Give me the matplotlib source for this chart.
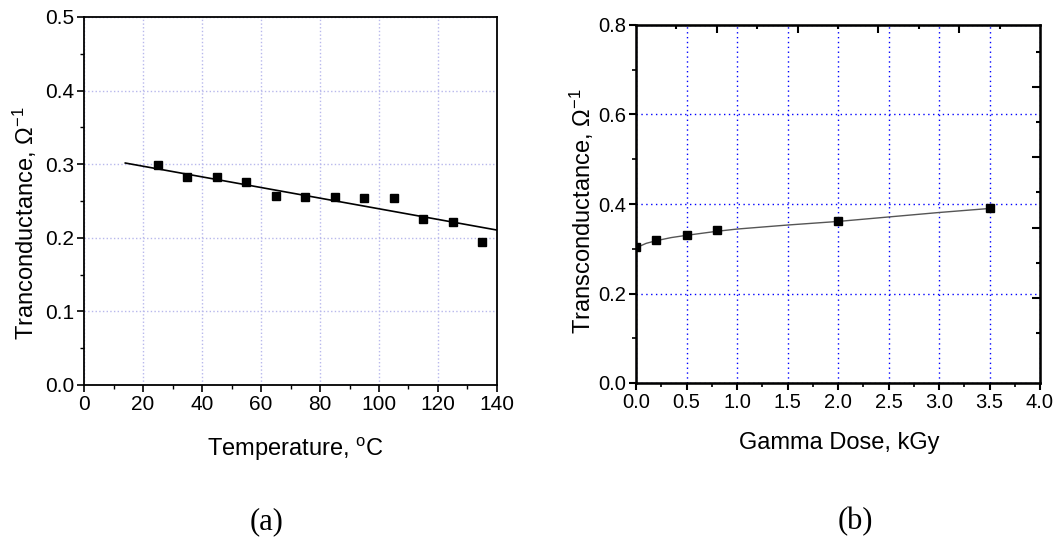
import numpy as np
import matplotlib
matplotlib.use("Agg")
import matplotlib.pyplot as plt
from matplotlib.ticker import MultipleLocator, FixedLocator

plt.rcParams['font.family'] = ['Liberation Sans', 'DejaVu Sans']
plt.rcParams['mathtext.fontset'] = 'custom'
plt.rcParams['mathtext.rm'] = 'Liberation Sans'

# (a) transconductance vs temperature
temp_c = [25, 35, 45, 55, 65, 75, 85, 95, 105, 115, 125, 135]
gm_temp = [0.299, 0.282, 0.282, 0.276, 0.257, 0.255, 0.255, 0.254, 0.254, 0.225, 0.221, 0.194]
# linear fit line end points
fit_temp = [14, 140]
fit_gm = [0.3016, 0.2105]

# (b) transconductance vs gamma dose
dose_kgy = [0.0, 0.2, 0.5, 0.8, 2.0, 3.5]
gm_dose = [0.304, 0.319, 0.330, 0.341, 0.362, 0.392]
# fitted curve
curve_dose = [0.0, 0.1, 0.2, 0.35, 0.5, 0.8, 1.0, 1.5, 2.0, 2.5, 3.0, 3.5]
curve_gm = [0.302, 0.312, 0.318, 0.325, 0.330, 0.339, 0.344, 0.353, 0.361, 0.371, 0.381, 0.390]

W, H = 1059, 545
fig = plt.figure(figsize=(W / 100, H / 100), dpi=100)


def box(l, t, r, b):
    return [l / W, 1 - b / H, (r - l) / W, (b - t) / H]


def put(x, y, s, **kw):
    # place text by pixel position measured from the top-left corner
    fig.text(x / W, 1 - y / H, s, ha='center', va='center', **kw)


# ---- panel (a)
ax1 = fig.add_axes(box(84, 17, 497, 385))
ax1.plot(fit_temp, fit_gm, color='black', lw=1.2, zorder=3)
ax1.plot(temp_c, gm_temp, 's', color='black', ms=6, zorder=4)
ax1.set_xlim(0, 140)
ax1.set_ylim(0, 0.5)
ax1.xaxis.set_major_locator(MultipleLocator(20))
ax1.xaxis.set_minor_locator(MultipleLocator(10))
ax1.yaxis.set_major_locator(MultipleLocator(0.1))
ax1.yaxis.set_minor_locator(MultipleLocator(0.05))
ax1.set_yticklabels([f'{v:.1f}' for v in ax1.get_yticks()])
ax1.grid(True, which='major', color='#b8b8ec', ls=':', lw=1)
ax1.tick_params(which='major', direction='out', length=5, width=1.2, labelsize=15, pad=2)
ax1.tick_params(which='minor', direction='out', length=3, width=1)
for s in ax1.spines.values():
    s.set_linewidth(1.3)

put(295, 449, 'Temperature, $\\mathregular{^{o}}$C', fontsize=17)
put(25, 223, 'Tranconductance, \u03a9$\\mathregular{^{-1}}$', fontsize=17, rotation=90)

# ---- panel (b)
ax2 = fig.add_axes(box(636, 25, 1040, 383))
ax2.plot(curve_dose, curve_gm, color='#555555', lw=1, zorder=3)
ax2.plot(dose_kgy, gm_dose, 's', color='black', ms=6, zorder=4)
ax2.set_xlim(0, 4)
ax2.set_ylim(0, 0.8)
ax2.xaxis.set_major_locator(MultipleLocator(0.5))
ax2.xaxis.set_minor_locator(MultipleLocator(0.25))
ax2.yaxis.set_major_locator(MultipleLocator(0.2))
ax2.yaxis.set_minor_locator(MultipleLocator(0.1))
ax2.set_xticklabels([f'{v:.1f}' for v in ax2.get_xticks()])
ax2.set_yticklabels([f'{v:.1f}' for v in ax2.get_yticks()])
ax2.grid(True, which='major', color='#0000ff', ls=(0, (1, 2.5)), lw=1)
ax2.tick_params(which='major', direction='out', length=5, width=1.5, labelsize=14.5, pad=2)
ax2.tick_params(which='minor', direction='out', length=3, width=1.2)
for s in ax2.spines.values():
    s.set_linewidth(1.8)

# inward ticks on the top and right edges (own spacing, as in the source)
top = ax2.twiny()
top.set_xlim(0, 5)
top.xaxis.set_major_locator(FixedLocator([1, 2, 3, 4]))
top.xaxis.set_minor_locator(FixedLocator([0.5, 1.5, 2.5, 3.5, 4.5]))
top.tick_params(which='major', direction='in', length=6, width=1.5, labeltop=False)
top.tick_params(which='minor', direction='in', length=3, width=1.5)
right = ax2.twinx()
right.set_ylim(-0.21, 4.88)
right.yaxis.set_major_locator(FixedLocator([1, 2, 3, 4]))
right.yaxis.set_minor_locator(FixedLocator([0.5, 1.5, 2.5, 3.5, 4.5]))
right.tick_params(which='major', direction='in', length=6, width=1.5, labelright=False)
right.tick_params(which='minor', direction='in', length=3, width=1.5)
ax2.tick_params(top=False, right=False)

put(839, 443, 'Gamma Dose, kGy', fontsize=17)
put(582, 211, 'Transconductance, \u03a9$\\mathregular{^{-1}}$', fontsize=17, rotation=90)

# captions
put(267, 522, '(a)', fontsize=22, family='Liberation Serif')
put(855, 522, '(b)', fontsize=22, family='Liberation Serif')

fig.savefig('out.png', dpi=100)
